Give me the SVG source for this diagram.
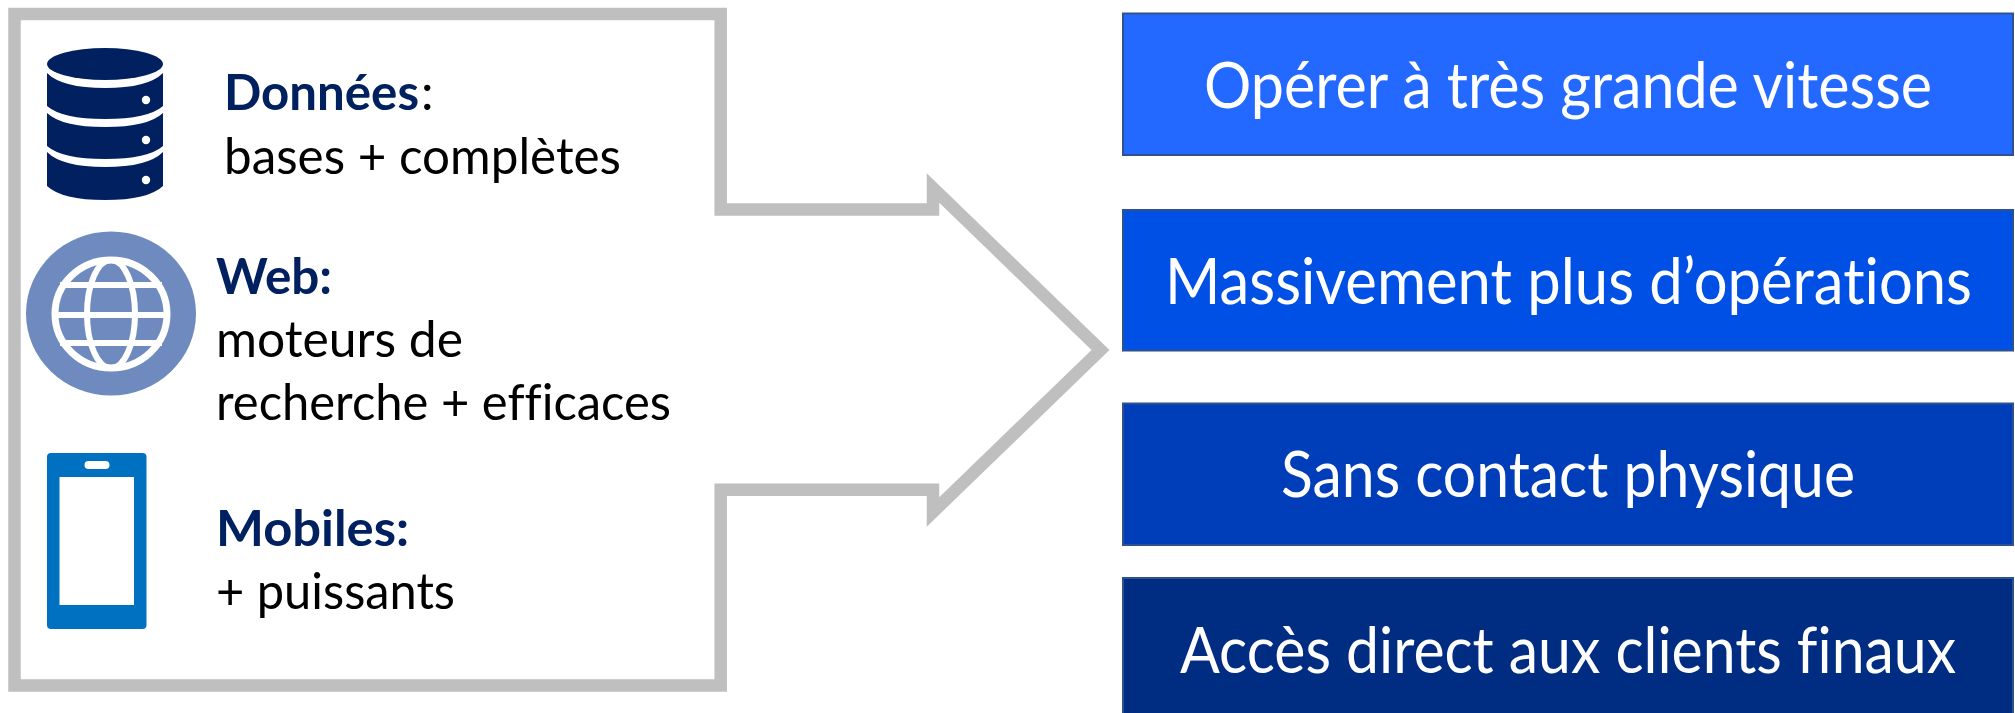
<svg xmlns="http://www.w3.org/2000/svg" width="2015" height="713" viewBox="0 0 2015 713">
<style>
text{font-family:"Lato","Liberation Sans",sans-serif;font-variant-ligatures:none}
.l{font-size:50px;fill:#000}
.h{font-size:50px;font-weight:700;fill:#002060}
.r{font-size:63px;fill:#fff;}
.b{stroke:#2F528F;stroke-width:2}
.db{fill:#002060}
.dot{fill:#fff}
.g{stroke:#fff;fill:none;stroke-width:6}
</style>
<rect width="2015" height="713" fill="#fff"/>
<g id="callout">
<path d="M720.7,209.5H933V188L1100.5,350L933,512V489.7H720.7V685.5H14.5V14H720.7Z" fill="#fff" stroke="#BFBFBF" stroke-width="12.5" stroke-miterlimit="10"/>
</g>
<g id="donnees">
<g id="icon-db">
<path class="db" d="M47,64A58,16 0 0 1 163,64A58,16 0 0 1 47,64Z"/>
<path class="db" d="M47,73Q62,88 105,88Q148,88 163,73V106Q148,119 105,119Q62,119 47,106Z"/>
<path class="db" d="M47,113Q62,127 105,127Q148,127 163,113V146Q148,159 105,159Q62,159 47,146Z"/>
<path class="db" d="M47,152Q62,167 105,167Q148,167 163,152V186Q148,200 105,200Q62,200 47,186Z"/>
<circle class="dot" cx="146" cy="100" r="4.2"/>
<circle class="dot" cx="146" cy="140" r="4.2"/>
<circle class="dot" cx="146" cy="180" r="4.2"/>
</g>
<text class="h" x="224" y="110" textLength="195" lengthAdjust="spacingAndGlyphs">Données</text>
<text class="l" x="421" y="110">:</text>
<text class="l" x="224" y="174" textLength="397" lengthAdjust="spacingAndGlyphs">bases + complètes</text>
</g>
<g id="web">
<g id="icon-globe">
<ellipse cx="111" cy="313.5" rx="85" ry="82" fill="#6F8ABF"/>
<ellipse class="g" cx="111" cy="314" rx="56" ry="54" style="stroke-width:7"/>
<ellipse class="g" cx="111" cy="314" rx="24" ry="54"/>
<path class="g" d="M60,285H162M55,315H167M60,343H162"/>
</g>
<text class="h" x="216" y="294" textLength="116" lengthAdjust="spacingAndGlyphs">Web:</text>
<text class="l" x="216" y="357" textLength="247" lengthAdjust="spacingAndGlyphs">moteurs de</text>
<text class="l" x="216" y="420" textLength="455" lengthAdjust="spacingAndGlyphs">recherche + efficaces</text>
</g>
<g id="mobiles">
<g id="icon-phone">
<rect x="47" y="453" width="99.5" height="176" rx="4" fill="#0070C0"/>
<rect x="59.5" y="477" width="74.5" height="128" fill="#fff"/>
<rect x="84.5" y="461" width="25" height="8" rx="4" fill="#fff"/>
</g>
<text class="h" x="216" y="546" textLength="193" lengthAdjust="spacingAndGlyphs">Mobiles:</text>
<text class="l" x="216" y="609" textLength="239" lengthAdjust="spacingAndGlyphs">+ puissants</text>
</g>
<g id="vitesse">
<rect class="b" x="1123" y="13.5" width="890" height="141.5" fill="#2469FF"/>
<text class="r" x="1204" y="108" textLength="728" lengthAdjust="spacingAndGlyphs">Opérer à très grande vitesse</text>
</g>
<g id="operations">
<rect class="b" x="1123" y="210" width="890" height="140.5" fill="#0050E6"/>
<text class="r" x="1165" y="304" textLength="807" lengthAdjust="spacingAndGlyphs">Massivement plus d’opérations</text>
</g>
<g id="contact">
<rect class="b" x="1123" y="403.5" width="890" height="141.5" fill="#003DB8"/>
<text class="r" x="1281" y="497" textLength="574" lengthAdjust="spacingAndGlyphs">Sans contact physique</text>
</g>
<g id="clients">
<rect class="b" x="1123" y="578" width="890" height="140" fill="#002C82"/>
<text class="r" x="1180" y="673" textLength="776" lengthAdjust="spacingAndGlyphs">Accès direct aux clients finaux</text>
</g>
</svg>
